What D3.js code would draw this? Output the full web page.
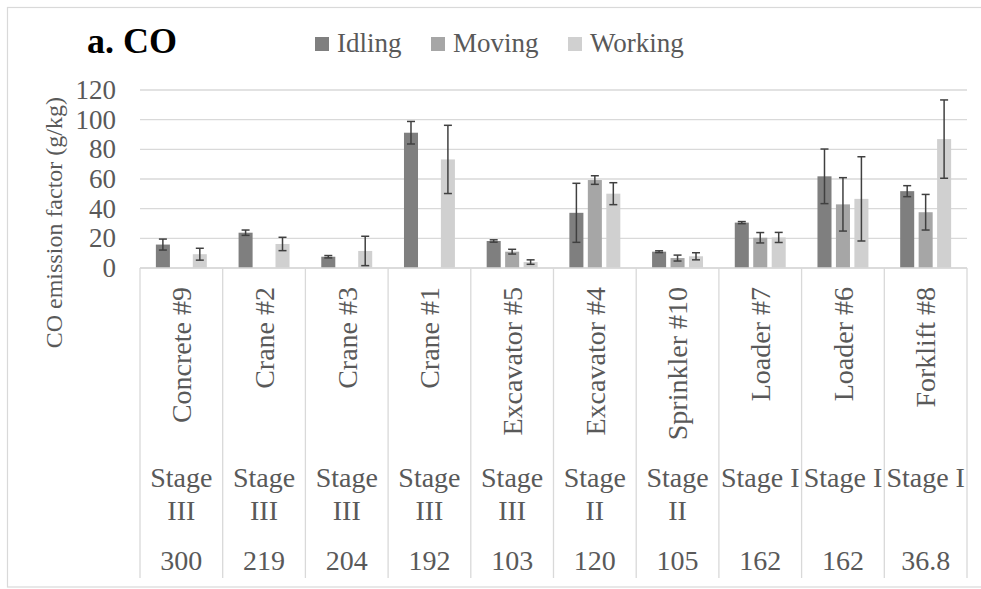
<!DOCTYPE html>
<html>
<head>
<meta charset="utf-8">
<script src="https://cdn.jsdelivr.net/npm/d3@7"></script>
<style>
  html, body { margin: 0; padding: 0; background: #fff; }
  svg { display: block; }
</style>
</head>
<body>
<svg id="chart" width="981" height="589"></svg>
<script>
// Equipment (category labels along the x axis)
const categories = ["Concrete #9", "Crane #2", "Crane #3", "Crane #1", "Excavator #5",
                    "Excavator #4", "Sprinkler #10", "Loader #7", "Loader #6", "Forklift #8"];
// Emission stage of each machine
const stages = ["Stage III", "Stage III", "Stage III", "Stage III", "Stage III",
                "Stage II", "Stage II", "Stage I", "Stage I", "Stage I"];
// Rated power row
const powers = ["300", "219", "204", "192", "103", "120", "105", "162", "162", "36.8"];

const seriesNames = ["Idling", "Moving", "Working"];
// CO emission factor means (g/kg); null = not measured
const idling  = [15.8, 23.8, 7.6, 91.2, 18.2, 37.2, 11.0, 30.6, 61.8, 51.8];
const moving  = [null, null, null, null, 11.0, 59.3, 6.7, 20.4, 42.9, 37.6];
const working = [9.3, 16.2, 11.5, 73.2, 4.0, 50.1, 7.9, 20.6, 46.6, 86.9];
// Standard deviations
const idlingErr  = [3.7, 1.8, 0.8, 7.6, 0.8, 19.9, 0.6, 0.7, 18.4, 3.7];
const movingErr  = [null, null, null, null, 1.6, 2.9, 2.0, 3.5, 18.0, 12.0];
const workingErr = [4.0, 4.5, 9.9, 23.0, 1.5, 7.4, 2.4, 3.4, 28.4, 26.4];

const yTicks = [0, 20, 40, 60, 80, 100, 120];
const colors = ["#7f7f7f", "#a6a6a6", "#d0d0d0"];

const values = [idling, moving, working];
const errors = [idlingErr, movingErr, workingErr];

const FONT = '"Liberation Serif", "Times New Roman", Times, serif';
const TEXT = "#595959";

const svg = d3.select("#chart");

// outer frame
svg.append("rect")
  .attr("x", 7.5).attr("y", 7.5).attr("width", 1000).attr("height", 579.5)
  .attr("fill", "none").attr("stroke", "#d9d9d9").attr("stroke-width", 1.2);

const plot = { left: 140, right: 967, top: 90, bottom: 268 };

const x0 = d3.scaleBand().domain(categories).range([plot.left, plot.right]).padding(0);
const x1 = d3.scaleBand().domain(seriesNames).range([0, x0.bandwidth()])
  .paddingInner(0.24).paddingOuter(0.86);
const y = d3.scaleLinear().domain([0, 120]).range([plot.bottom, plot.top]);

// gridlines
svg.append("g").selectAll("line").data(yTicks).join("line")
  .attr("x1", plot.left).attr("x2", plot.right)
  .attr("y1", d => y(d)).attr("y2", d => y(d))
  .attr("stroke", "#d9d9d9").attr("stroke-width", 1.3);

// y axis labels
const yAxis = d3.axisLeft(y).tickValues(yTicks).tickSize(0).tickPadding(0);
const yg = svg.append("g").attr("transform", `translate(116,0)`).call(yAxis);
yg.select(".domain").remove();
yg.selectAll("text")
  .style("font-family", FONT).style("font-size", "27px").style("fill", TEXT);

// y axis title
svg.append("text")
  .attr("transform", `translate(54,97) rotate(-90)`)
  .attr("text-anchor", "end").attr("dy", "0.35em")
  .style("font-family", FONT).style("font-size", "24px").style("fill", TEXT)
  .text("CO emission factor  (g/kg)");

// bars
const groups = svg.append("g").selectAll("g").data(categories).join("g")
  .attr("transform", d => `translate(${x0(d)},0)`);

const cells = groups.selectAll("g.cell")
  .data((c, i) => seriesNames.map((s, k) => ({ s, k, v: values[k][i], e: errors[k][i] })))
  .join("g").attr("class", "cell");

cells.filter(d => d.v != null).append("rect")
  .attr("x", d => x1(d.s)).attr("width", x1.bandwidth())
  .attr("y", d => y(d.v)).attr("height", d => y(0) - y(d.v))
  .attr("fill", d => colors[d.k]);

// error bars
const eb = cells.filter(d => d.v != null && d.e != null);
const cap = 4;
const mid = d => x1(d.s) + x1.bandwidth() / 2;
eb.append("line")
  .attr("x1", mid).attr("x2", mid)
  .attr("y1", d => y(d.v + d.e)).attr("y2", d => y(d.v - d.e))
  .attr("stroke", "#404040").attr("stroke-width", 1.5);
eb.append("line")
  .attr("x1", d => mid(d) - cap).attr("x2", d => mid(d) + cap)
  .attr("y1", d => y(d.v + d.e)).attr("y2", d => y(d.v + d.e))
  .attr("stroke", "#404040").attr("stroke-width", 1.5);
eb.append("line")
  .attr("x1", d => mid(d) - cap).attr("x2", d => mid(d) + cap)
  .attr("y1", d => y(d.v - d.e)).attr("y2", d => y(d.v - d.e))
  .attr("stroke", "#404040").attr("stroke-width", 1.5);

// x axis baseline and category dividers
svg.append("line")
  .attr("x1", plot.left).attr("x2", plot.right)
  .attr("y1", plot.bottom).attr("y2", plot.bottom)
  .attr("stroke", "#d9d9d9").attr("stroke-width", 1.3);
const dividers = categories.map(c => x0(c)).concat([plot.right]);
svg.append("g").selectAll("line").data(dividers).join("line")
  .attr("x1", d => d).attr("x2", d => d)
  .attr("y1", plot.bottom).attr("y2", 578)
  .attr("stroke", "#d9d9d9").attr("stroke-width", 1.3);

// category labels (rotated)
svg.append("g").selectAll("text").data(categories).join("text")
  .attr("transform", d => `translate(${x0(d) + x0.bandwidth() / 2},287) rotate(-90)`)
  .attr("text-anchor", "end").attr("dy", "0.35em")
  .style("font-family", FONT).style("font-size", "28px").style("fill", TEXT)
  .text(d => d);

// stage labels, wrapped when wider than the column
const stageG = svg.append("g");
stages.forEach((s, i) => {
  const cx = x0(categories[i]) + x0.bandwidth() / 2;
  const t = stageG.append("text").attr("x", cx).attr("y", 487)
    .attr("text-anchor", "middle")
    .style("font-family", FONT).style("font-size", "28px").style("fill", TEXT)
    .text(s);
  if (t.node().getComputedTextLength() > x0.bandwidth() + 2) {
    const words = s.split(" ");
    t.text(null);
    words.forEach((w, j) => {
      t.append("tspan").attr("x", cx).attr("y", 487 + j * 33).text(w);
    });
  }
});

// power row
svg.append("g").selectAll("text").data(powers).join("text")
  .attr("x", (d, i) => x0(categories[i]) + x0.bandwidth() / 2)
  .attr("y", 570).attr("text-anchor", "middle")
  .style("font-family", FONT).style("font-size", "28px").style("fill", TEXT)
  .text(d => d);

// panel title
svg.append("text")
  .attr("x", 87).attr("y", 53)
  .style("font-family", FONT).style("font-size", "36px").style("font-weight", "bold")
  .style("fill", "#000")
  .text("a. CO");

// legend
const legendX = [315, 431, 568];
const lg = svg.append("g").selectAll("g").data(seriesNames).join("g")
  .attr("transform", (d, i) => `translate(${legendX[i]},0)`);
lg.append("rect").attr("x", 0).attr("y", 37).attr("width", 14).attr("height", 14)
  .attr("fill", (d, i) => colors[i]);
lg.append("text").attr("x", 22).attr("y", 52)
  .style("font-family", FONT).style("font-size", "27px").style("fill", TEXT)
  .text(d => d);
</script>
</body>
</html>
